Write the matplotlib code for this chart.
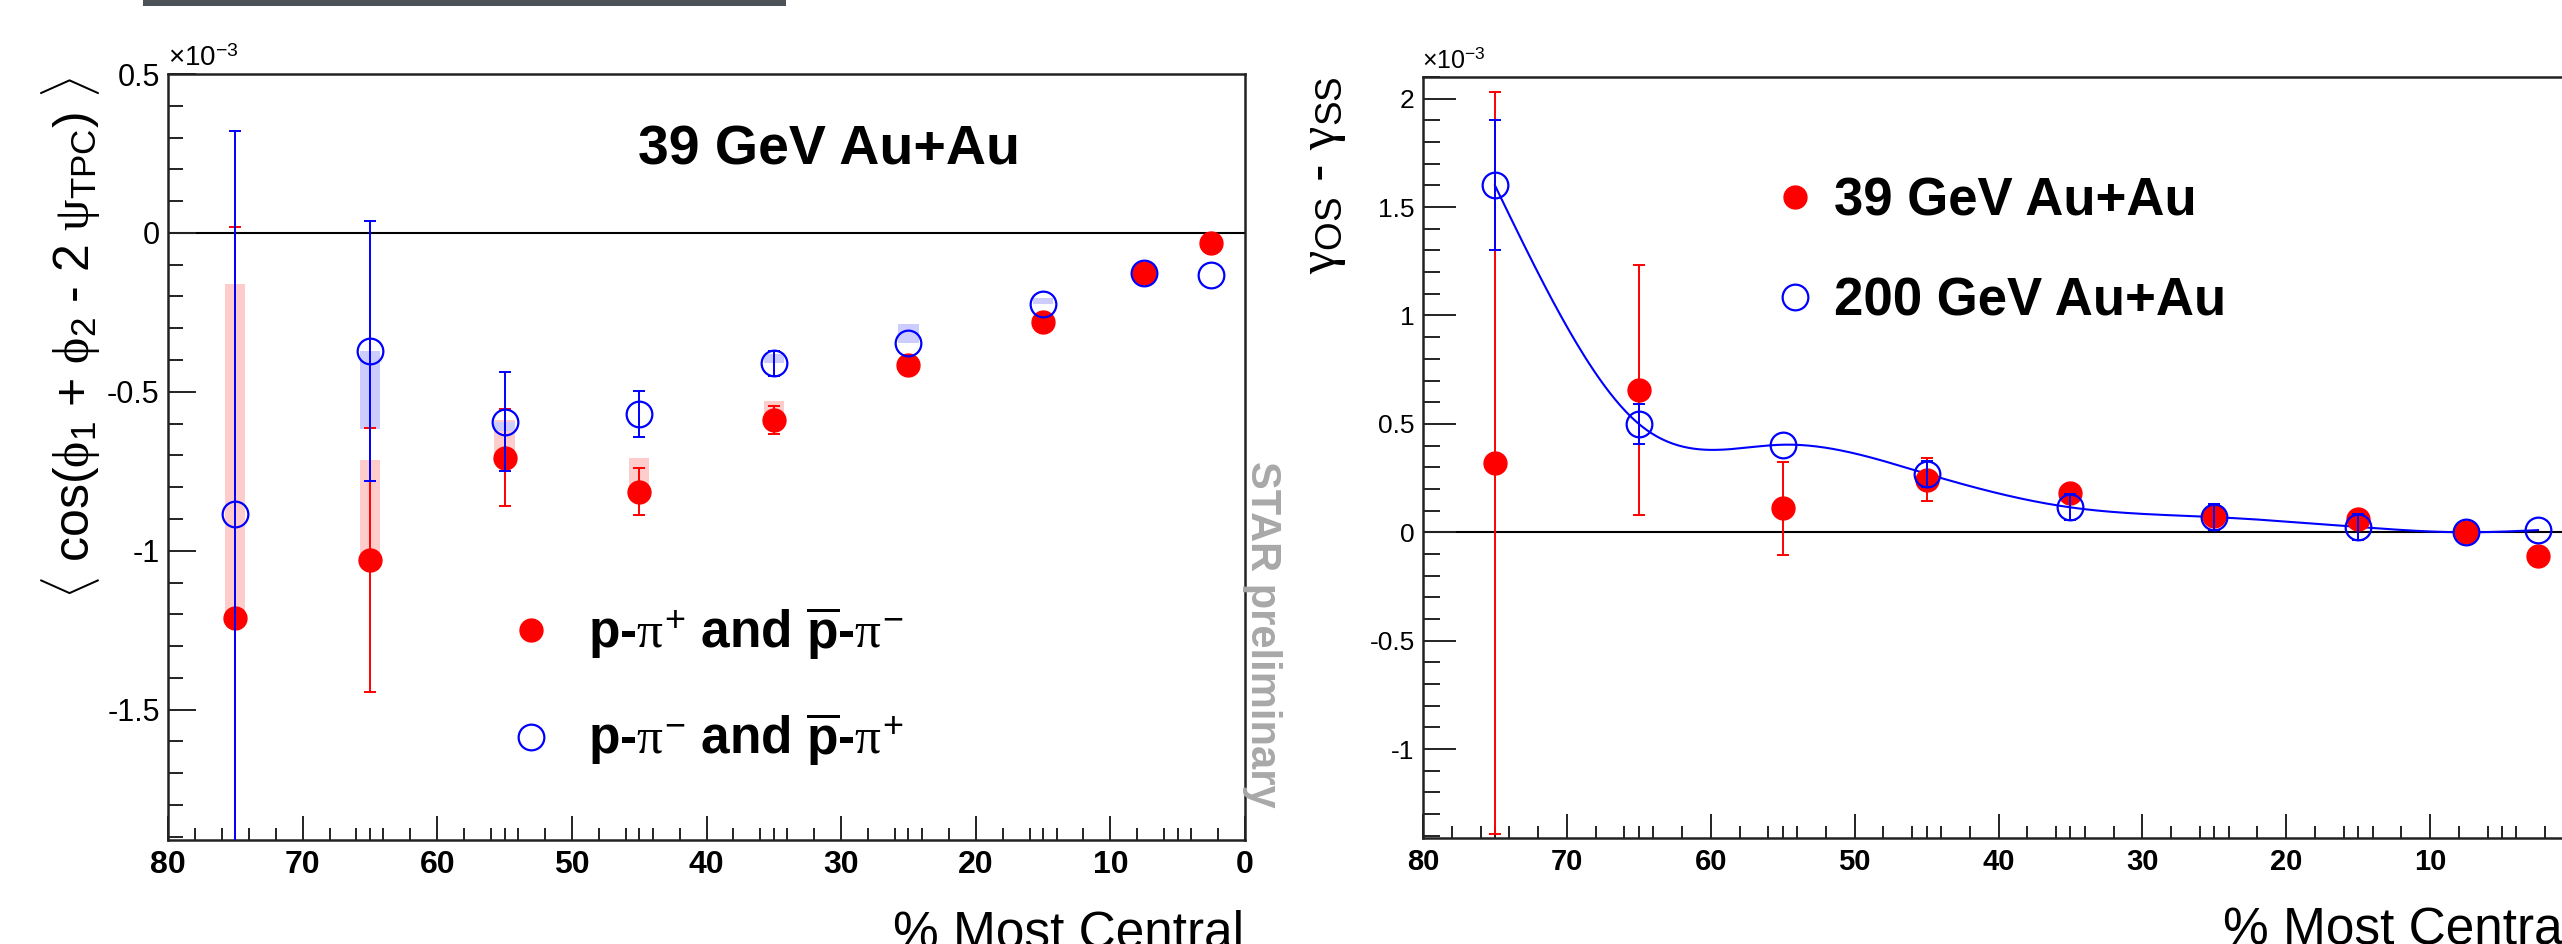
import numpy as np
import matplotlib
matplotlib.use('Agg')
import matplotlib.pyplot as plt
from matplotlib.patches import Rectangle
from matplotlib.lines import Line2D
from matplotlib.ticker import MultipleLocator, FixedLocator, FuncFormatter

# -------------------- data --------------------
centrality = [75, 65, 55, 45, 35, 25, 15, 7.5, 2.5]

# left panel: <cos(phi1 + phi2 - 2 psi_TPC)>  (x1e-3), 39 GeV Au+Au
# (errors hidden under the marker are given as 0)
ss_val = [-1.21, -1.03, -0.707, -0.815, -0.588, -0.415, -0.28, -0.127, -0.033]
ss_err = [1.23, 0.415, 0.153, 0.074, 0.044, 0, 0, 0, 0]
ss_sys_up = [1.05, 0.316, 0.117, 0.108, 0.06, 0.0, 0.0, 0.0, 0.0]
ss_sys_dn = [0, 0, 0, 0, 0, 0, 0, 0, 0]

os_val = [-0.885, -0.371, -0.594, -0.569, -0.41, -0.346, -0.224, -0.127, -0.132]
os_err = [1.205, 0.41, 0.155, 0.073, 0.04, 0, 0, 0, 0]
os_sys_up = [0, 0, 0, 0, 0.03, 0.06, 0.02, 0, 0]
os_sys_dn = [0, 0.245, 0.03, 0, 0, 0, 0, 0, 0]

# right panel: gamma_OS - gamma_SS  (x1e-3)
g39_val = [0.32, 0.656, 0.11, 0.243, 0.18, 0.075, 0.063, 0.0, -0.11]
g39_err = [1.71, 0.578, 0.215, 0.1, 0, 0, 0, 0, 0]
g200_val = [1.60, 0.50, 0.404, 0.27, 0.115, 0.07, 0.025, 0.0, 0.01]
g200_err = [0.30, 0.094, 0, 0.06, 0.06, 0.06, 0.06, 0, 0]

# -------------------- style --------------------
plt.rcParams['font.family'] = ['Liberation Sans', 'DejaVu Sans']
plt.rcParams['mathtext.fontset'] = 'custom'
plt.rcParams['mathtext.rm'] = 'Liberation Sans'
plt.rcParams['mathtext.bf'] = 'Liberation Sans:bold'
plt.rcParams['mathtext.sf'] = 'Liberation Sans'
plt.rcParams['mathtext.it'] = 'Liberation Serif'

RED = '#ff0000'
BLUE = '#0000ff'
W, H = 2562, 944


def natural_spline(x, y, xs):
    """smooth curve through the points (like ROOT 'C' option)"""
    x = np.asarray(x, float)
    y = np.asarray(y, float)
    o = np.argsort(x)
    x, y = x[o], y[o]
    n = len(x)
    h = np.diff(x)
    A = np.zeros((n, n))
    b = np.zeros(n)
    A[0, 0] = A[-1, -1] = 1
    for i in range(1, n - 1):
        A[i, i - 1] = h[i - 1]
        A[i, i] = 2 * (h[i - 1] + h[i])
        A[i, i + 1] = h[i]
        b[i] = 6 * ((y[i + 1] - y[i]) / h[i] - (y[i] - y[i - 1]) / h[i - 1])
    M = np.linalg.solve(A, b)
    idx = np.clip(np.searchsorted(x, xs) - 1, 0, n - 2)
    x0, x1 = x[idx], x[idx + 1]
    hh = x1 - x0
    t0, t1 = x1 - xs, xs - x0
    return ((M[idx] * t0**3 + M[idx + 1] * t1**3) / (6 * hh)
            + (y[idx] / hh - M[idx] * hh / 6) * t0
            + (y[idx + 1] / hh - M[idx + 1] * hh / 6) * t1)


def style_axis(ax, ylim, xlab_size, ylab_size, ymaj_len, ymin_len):
    ax.set_xlim(80, 0)
    ax.set_ylim(*ylim)
    ax.xaxis.set_major_locator(MultipleLocator(10))
    minor = sorted(set(range(2, 80, 2)) - set(range(10, 80, 10)) | set(range(5, 80, 10)))
    ax.xaxis.set_minor_locator(FixedLocator(minor))
    ax.yaxis.set_major_locator(MultipleLocator(0.5))
    ax.yaxis.set_minor_locator(MultipleLocator(0.1))
    ax.yaxis.set_major_formatter(FuncFormatter(lambda v, p: '{:g}'.format(round(v, 3))))
    ax.tick_params(which='both', direction='in', top=False, right=False,
                   width=1.4, color='#222222')
    ax.tick_params(axis='x', which='major', length=17, pad=7, labelsize=xlab_size)
    ax.tick_params(axis='x', which='minor', length=9)
    ax.tick_params(axis='y', which='major', length=ymaj_len, pad=6, labelsize=ylab_size)
    ax.tick_params(axis='y', which='minor', length=ymin_len)
    for lab in ax.get_xticklabels():
        lab.set_fontweight('bold')
    for s in ax.spines.values():
        s.set_linewidth(1.8)
        s.set_color('#222222')
    ax.axhline(0, color='black', lw=1.5, zorder=1.5)


def draw_points(ax, x, y, err, color, filled, z):
    x, y, err = np.asarray(x), np.asarray(y), np.asarray(err)
    show = err > 0
    ax.errorbar(x[show], y[show], yerr=err[show], fmt='none', ecolor=color,
                elinewidth=1.4, capsize=4, capthick=1.4, zorder=z)
    if filled:
        ax.plot(x, y, 'o', ls='none', ms=16.5, mfc=color, mec=color, zorder=z)
    else:
        ax.plot(x, y, 'o', ls='none', ms=18.5, mfc='none', mec=color, mew=1.6, zorder=z)


fig = plt.figure(figsize=(W / 100, H / 100), dpi=100)

# scrap of the slide above the plot
fig.add_artist(Rectangle((143 / W, 1 - 6 / H), (786 - 143) / W, 6 / H,
                         color='#4d5158', transform=fig.transFigure, lw=0))

# -------------------- left panel --------------------
ax1 = fig.add_axes([168 / W, 1 - 840 / H, (1245 - 168) / W, (840 - 74) / H])
style_axis(ax1, (-1.91, 0.5), 23, 22, 20, 11)

x = np.array(centrality)
ax1.bar(x, np.add(ss_sys_up, ss_sys_dn), bottom=np.subtract(ss_val, ss_sys_dn),
        width=1.5, color='#ffcccc', lw=0, zorder=1)
ax1.bar(x, np.add(os_sys_up, os_sys_dn), bottom=np.subtract(os_val, os_sys_dn),
        width=1.5, color='#ccccff', lw=0, zorder=1)
draw_points(ax1, x, ss_val, ss_err, RED, True, 3)
draw_points(ax1, x, os_val, os_err, BLUE, False, 4)

ax1.text(0.436, 0.90, '39 GeV Au+Au', transform=ax1.transAxes, fontsize=40,
         fontweight='bold', va='center', ha='left')

h_ss = Line2D([], [], ls='none', marker='o', ms=16.5, mfc=RED, mec=RED)
h_os = Line2D([], [], ls='none', marker='o', ms=18.5, mfc='none', mec=BLUE, mew=1.6)
ax1.legend([h_ss, h_os],
           [r'p-$\pi^{+}$ and $\overline{\mathbf{p}}$-$\pi^{-}$',
            r'p-$\pi^{-}$ and $\overline{\mathbf{p}}$-$\pi^{+}$'],
           loc='upper left', bbox_to_anchor=((516 - 168) / 1077, (840 - 604) / 766),
           frameon=False, prop={'size': 37, 'weight': 'bold'}, borderpad=0,
           handlelength=0.6, handletextpad=0.8, labelspacing=0.95, borderaxespad=0)

fig.text(168 / W, 1 - 72 / H, r'$\times$10$^{-3}$', fontsize=20, ha='left', va='bottom')
fig.text(71 / W, 1 - 76 / H,
         r'$\langle$ cos($\phi_{\rm 1}$ + $\phi_{\rm 2}$ - 2 $\psi_{\rm TPC}$) $\rangle$',
         rotation=90, fontsize=36, ha='center', va='top')
fig.text(1244 / W, 1 - 910 / H, '% Most Central', fontsize=37, ha='right', va='top')
fig.text(1262 / W, 1 - 634 / H, 'STAR preliminary', rotation=270, fontsize=30,
         color='#a8a8a8', fontweight='bold', ha='center', va='center')

# -------------------- right panel --------------------
ax2 = fig.add_axes([1423 / W, 1 - 838 / H, (2574 - 1423) / W, (838 - 77) / H])
style_axis(ax2, (-1.41, 2.1), 21, 19, 24, 12.5)

xs = np.linspace(min(centrality), max(centrality), 400)
ax2.plot(xs, natural_spline(centrality, g200_val, xs), color=BLUE, lw=1.5, zorder=2)
draw_points(ax2, x, g39_val, g39_err, RED, True, 3)
draw_points(ax2, x, g200_val, g200_err, BLUE, False, 4)

ax2.legend([h_ss, h_os], ['39 GeV Au+Au', '200 GeV Au+Au'],
           loc='upper left', bbox_to_anchor=((1779 - 1423) / 1151, (838 - 176) / 761),
           frameon=False, prop={'size': 38, 'weight': 'bold'}, borderpad=0,
           handlelength=0.6, handletextpad=0.45, labelspacing=0.95, borderaxespad=0)

fig.text(1422 / W, 1 - 73 / H, r'$\times$10$^{-3}$', fontsize=18, ha='left', va='bottom')
fig.text(1323 / W, 1 - 76 / H, r'$\gamma_{\rm OS}$ - $\gamma_{\rm SS}$',
         rotation=90, fontsize=38, ha='center', va='top')
fig.text(2574 / W, 1 - 906 / H, '% Most Central', fontsize=37, ha='right', va='top')

fig.savefig('out.png', dpi=100)
